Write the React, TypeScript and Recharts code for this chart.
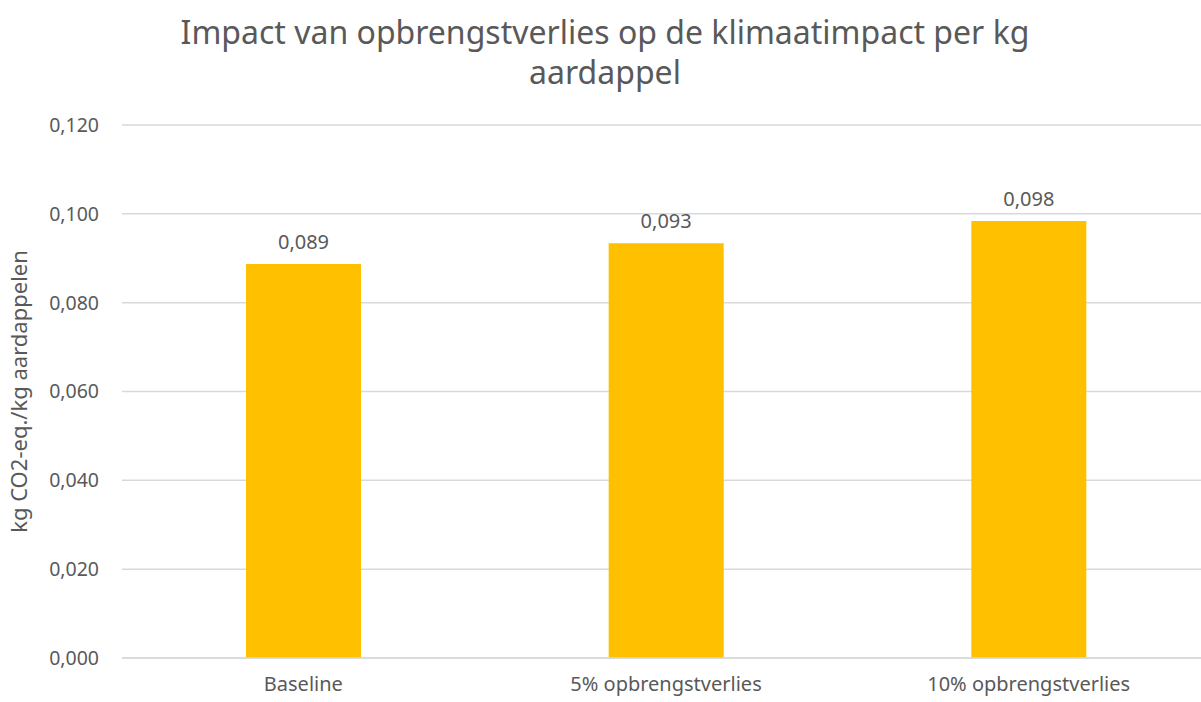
import React from "react";
import { BarChart, Bar, XAxis, YAxis, CartesianGrid, LabelList } from "recharts";

const categories = ["Baseline", "5% opbrengstverlies", "10% opbrengstverlies"];
const impactValues = [0.0887, 0.0934, 0.0984];
const yTicks = [0, 0.02, 0.04, 0.06, 0.08, 0.1, 0.12];

const data = categories.map((name, i) => ({ name, value: impactValues[i] }));

const fmt = (v: number) => v.toFixed(3).replace(".", ",");

const FONT = "'Noto Sans', 'Open Sans', sans-serif";
const TEXT = "#595959";

const App: React.FC = () => {
  return (
    <div
      style={{
        position: "absolute",
        left: 0,
        top: 0,
        width: 1201,
        height: 702,
        overflow: "hidden",
        background: "#fff",
        fontFamily: FONT,
      }}
    >
      <div
        style={{
          position: "absolute",
          left: 0,
          top: 12,
          width: 1210,
          textAlign: "center",
          color: TEXT,
          fontSize: 32,
          lineHeight: "40px",
        }}
      >
        Impact van opbrengstverlies op de klimaatimpact per kg
        <br />
        aardappel
      </div>
      <BarChart
        width={1210}
        height={702}
        data={data}
        margin={{ top: 125, right: 0, left: 0, bottom: 0 }}
      >
        <CartesianGrid vertical={false} stroke="#d9d9d9" strokeWidth={1.5} />
        <XAxis
          dataKey="name"
          height={44}
          axisLine={{ stroke: "#d9d9d9", strokeWidth: 1.5 }}
          tickLine={false}
          tickSize={0}
          tickMargin={19}
          tick={{ fill: TEXT, fontSize: 20, fontFamily: FONT }}
        />
        <YAxis
          width={122}
          domain={[0, 0.12]}
          ticks={yTicks}
          interval={0}
          axisLine={false}
          tickLine={false}
          tickSize={0}
          tickMargin={23}
          tickFormatter={fmt}
          tick={{ fill: TEXT, fontSize: 19.5, fontFamily: FONT }}
          label={{
            value: "kg CO2-eq./kg aardappelen",
            angle: -90,
            position: "insideLeft",
            offset: 19,
            style: { fill: TEXT, fontSize: 22, fontFamily: FONT, textAnchor: "middle" },
          }}
        />
        <Bar dataKey="value" fill="#FFC000" barSize={115} isAnimationActive={false}>
          <LabelList
            dataKey="value"
            position="top"
            offset={15}
            formatter={(v: number) => fmt(v)}
            style={{ fill: TEXT, fontSize: 20, fontFamily: FONT }}
          />
        </Bar>
      </BarChart>
    </div>
  );
};

export default App;
